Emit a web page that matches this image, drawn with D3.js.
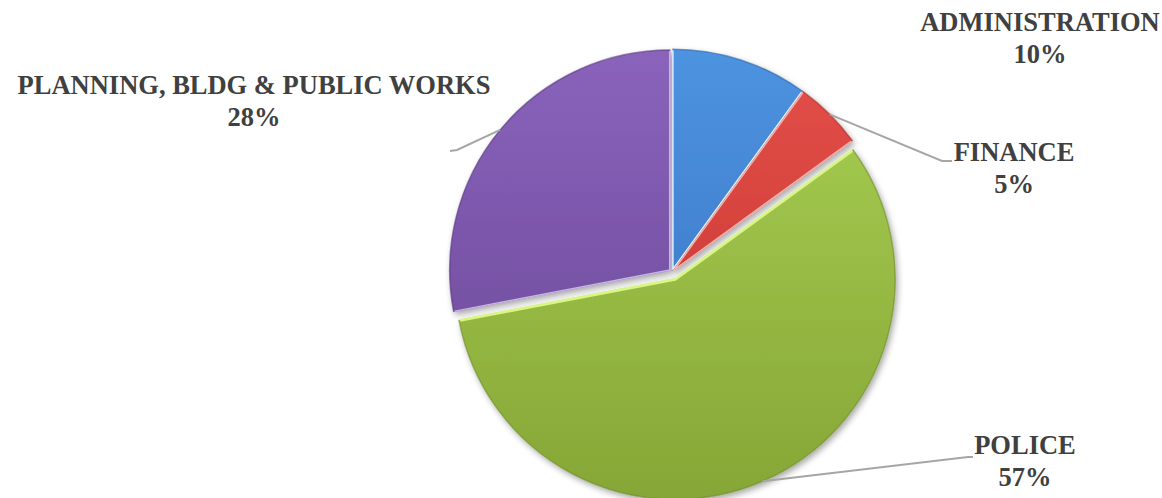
<!DOCTYPE html>
<html>
<head>
<meta charset="utf-8">
<script src="https://cdn.jsdelivr.net/npm/d3@7"></script>
<style>
  html, body { margin: 0; padding: 0; background: #fff; }
</style>
</head>
<body>
<svg id="chart" width="1162" height="498"></svg>
<script>

const categories = ['ADMINISTRATION', 'FINANCE', 'POLICE', 'PLANNING, BLDG & PUBLIC WORKS'];
const values = [10, 5, 57, 28];
const pctLabels = ['10%', '5%', '57%', '28%'];

const colors = [
  ['#4d93e0', '#3670bf'],
  ['#e4504a', '#c2302b'],
  ['#a8cf52', '#86a636'],
  ['#8a63bb', '#684595']
];
const rimColors = ['#2f64a8', '#a82822', '#6f8c2a', '#55367e'];
const edgeColors = ['#e6f0fb', '#f4b0a8', '#d8f585', '#c8b4e2'];

// label placement: text centre x, first baseline y, leader elbow (null = no leader)
const labelLayout = [
  { x: 1040, y: 31, elbow: null },
  { x: 1014, y: 161, elbow: [[942, 161], [952, 161]] },
  { x: 1025, y: 454, elbow: [[968, 457], [973, 457]] },
  { x: 254, y: 94, elbow: [[457, 150], [450, 151]] }
];

const cx = 672, cy = 272, radius = 220;
const explode = [3, 3, 8, 3];

const svg = d3.select('#chart');
const defs = svg.append('defs');

const shadow = defs.append('filter').attr('id', 'shadow')
  .attr('x', '-10%').attr('y', '-10%').attr('width', '120%').attr('height', '120%');
shadow.append('feDropShadow').attr('dx', 2).attr('dy', 3)
  .attr('stdDeviation', 3).attr('flood-color', '#000').attr('flood-opacity', 0.35);

colors.forEach((c, i) => {
  const g = defs.append('linearGradient').attr('id', 'grad' + i)
    .attr('gradientUnits', 'userSpaceOnUse')
    .attr('x1', 0).attr('y1', -radius).attr('x2', 0).attr('y2', radius);
  g.append('stop').attr('offset', '0%').attr('stop-color', c[0]);
  g.append('stop').attr('offset', '100%').attr('stop-color', c[1]);
});

const pie = d3.pie().sort(null).value(d => d)(values);
const arc = d3.arc().innerRadius(0).outerRadius(radius);

const offsetOf = (d, i) => {
  const a = (d.startAngle + d.endAngle) / 2;
  return [explode[i] * Math.sin(a), -explode[i] * Math.cos(a)];
};

const slices = svg.append('g')
  .attr('transform', `translate(${cx},${cy})`)
  .attr('filter', 'url(#shadow)');

const sliceG = slices.selectAll('g')
  .data(pie)
  .join('g')
  .attr('transform', (d, i) => {
    const [dx, dy] = offsetOf(d, i);
    return `translate(${dx},${dy})`;
  });

sliceG.append('path')
  .attr('d', arc)
  .attr('fill', (d, i) => `url(#grad${i})`)
  .attr('stroke', (d, i) => rimColors[i])
  .attr('stroke-opacity', 0.6)
  .attr('stroke-width', 1.5);

// light highlight along the straight edges of each slice
sliceG.append('path')
  .attr('fill', 'none')
  .attr('stroke', (d, i) => edgeColors[i])
  .attr('stroke-width', (d, i) => i === 2 ? 3 : 1.5)
  .attr('stroke-linejoin', 'round')
  .attr('d', d => {
    const r = radius - 1;
    return d3.line()([
      [r * Math.sin(d.startAngle), -r * Math.cos(d.startAngle)],
      [0, 0],
      [r * Math.sin(d.endAngle), -r * Math.cos(d.endAngle)]
    ]);
  });

// leader lines
const leaders = svg.append('g').attr('fill', 'none')
  .attr('stroke', '#a6a6a6').attr('stroke-width', 2);

pie.forEach((d, i) => {
  const lay = labelLayout[i];
  if (!lay.elbow) return;
  const a = (d.startAngle + d.endAngle) / 2;
  const [dx, dy] = offsetOf(d, i);
  const start = [cx + dx + radius * Math.sin(a), cy + dy - radius * Math.cos(a)];
  leaders.append('path').attr('d', d3.line()([start, ...lay.elbow]));
});

// labels
const labels = svg.append('g');
categories.forEach((name, i) => {
  const lay = labelLayout[i];
  const t = labels.append('text')
    .attr('text-anchor', 'middle')
    .attr('font-family', "'Liberation Serif', 'Times New Roman', serif")
    .attr('font-weight', 'bold')
    .attr('font-size', 26.5)
    .attr('fill', '#404040');
  t.append('tspan').attr('x', lay.x).attr('y', lay.y).text(name);
  t.append('tspan').attr('x', lay.x).attr('y', lay.y + 32).text(pctLabels[i]);
});

</script>
</body>
</html>
